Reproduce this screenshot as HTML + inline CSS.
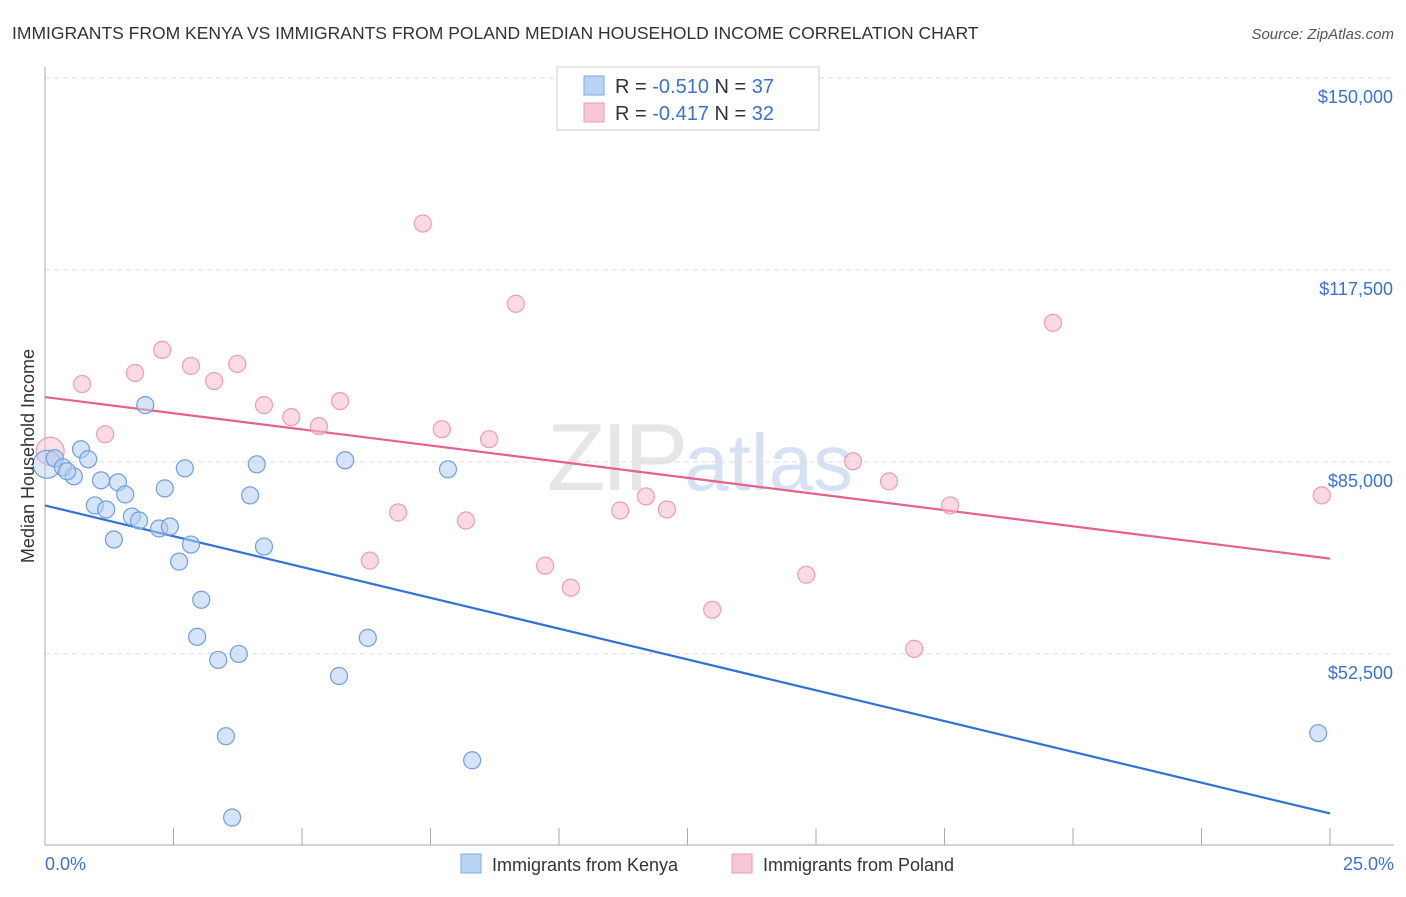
<!DOCTYPE html>
<html><head><meta charset="utf-8"><style>
body{margin:0;background:#fff;font-family:"Liberation Sans",sans-serif;}
svg text{font-family:"Liberation Sans",sans-serif;}
</style></head><body>
<svg id="chart" width="1406" height="892" xmlns="http://www.w3.org/2000/svg">
<text x="12" y="39" font-size="17.5" fill="#333">IMMIGRANTS FROM KENYA VS IMMIGRANTS FROM POLAND MEDIAN HOUSEHOLD INCOME CORRELATION CHART</text>
<text x="1394" y="39" font-size="15" fill="#555" text-anchor="end" font-style="italic">Source: ZipAtlas.com</text>
<text x="700" y="490" font-size="96" fill="#e6e6e6" text-anchor="middle" font-family="Liberation Serif" letter-spacing="-4">ZIP<tspan fill="#d6e2f3" font-family="Liberation Sans" font-size="80" letter-spacing="0">atlas</tspan></text>
<g id="grid"></g>
<g id="axes"></g>
<g id="lines"></g>
<g id="points"></g>
<text transform="translate(34,456) rotate(-90)" font-size="18" fill="#333" text-anchor="middle">Median Household Income</text>
<text x="45" y="870" font-size="18" fill="#3a72d2">0.0%</text>
<text x="1394" y="870" font-size="18" fill="#3a72d2" text-anchor="end">25.0%</text>
<g>
<rect x="557" y="67" width="262" height="63" fill="#fff" stroke="#ccc"/>
<rect x="584" y="76" width="20" height="19" fill="#b9d3f5" stroke="#7fa9e0"/>
<rect x="584" y="103" width="20" height="19" fill="#f9c6d5" stroke="#ec9db5"/>
<text x="615" y="93" font-size="20" fill="#333">R = <tspan fill="#3a72d2">-0.510</tspan>   N = <tspan fill="#3a72d2">37</tspan></text>
<text x="615" y="120" font-size="20" fill="#333">R = <tspan fill="#3a72d2">-0.417</tspan>   N = <tspan fill="#3a72d2">32</tspan></text>
</g>
<g>
<rect x="461" y="854" width="20" height="19" fill="#b9d3f5" stroke="#7fa9e0"/>
<text x="492" y="871" font-size="18" fill="#333">Immigrants from Kenya</text>
<rect x="732" y="854" width="20" height="19" fill="#f9c6d5" stroke="#ec9db5"/>
<text x="763" y="871" font-size="18" fill="#333">Immigrants from Poland</text>
</g>
</svg>
<script>
const yTicks=[150000,117500,85000,52500];
const yTickLabels=["$150,000","$117,500","$85,000","$52,500"];
const xTicks=[0,2.5,5,7.5,10,12.5,15,17.5,20,22.5,25];
const kenyaX=[0.04,0.19,0.35,0.56,0.70,0.84,0.97,1.09,1.19,1.34,1.42,1.56,1.69,1.83,1.95,2.22,2.33,2.43,2.61,2.72,2.84,3.04,2.96,3.37,3.52,3.64,3.77,3.99,4.12,4.26,5.72,5.84,6.28,7.84,8.31,24.77,0.43];
const kenyaY=[84590,85610,84080,82550,87140,85440,77620,81870,76940,71850,81530,79490,75750,75070,94610,73720,80510,74050,68110,83910,71000,61650,55370,51460,38550,24780,52480,79320,84590,70660,48740,85270,55200,83740,34470,39060,83400];
const polandX=[0.10,0.72,1.17,1.75,2.28,2.84,3.29,3.74,4.26,4.79,5.33,5.74,6.32,6.87,7.35,7.72,8.19,8.64,9.16,9.73,10.23,11.19,11.69,12.10,12.98,14.81,15.72,16.42,16.91,17.61,19.61,24.84];
const polandY=[86800,98180,89690,100050,103960,101240,98690,101580,94610,92570,91050,95290,68280,76430,125360,90530,75070,88840,111770,67430,63690,76770,79150,76940,59950,65900,85100,81700,53330,77620,108540,79320];
const kenyaLine=[77620,25460];
const polandLine=[95970,68620];
const NS="http://www.w3.org/2000/svg";
const X=v=>45+v*(1330-45)/25;
const Y=v=>78+(150000-v)*(653.8-78)/(150000-52500);
function mk(t,a,p){const e=document.createElementNS(NS,t);for(const k in a)e.setAttribute(k,a[k]);p.appendChild(e);return e;}
const grid=document.getElementById('grid'),axes=document.getElementById('axes'),lines=document.getElementById('lines'),pts=document.getElementById('points');
yTicks.forEach((v,i)=>{
 const l=mk('line',{x1:45,x2:1394,y1:Y(v),y2:Y(v),stroke:'#ddd','stroke-dasharray':'5,4'},grid);
 
 
 const t=mk('text',{x:1393,y:Y(v)+25,'font-size':18,fill:'#3a72d2','text-anchor':'end'},axes);
 t.textContent=yTickLabels[i];
 
 
});
const ax=mk('line',{x1:45,x2:45,y1:67,y2:845,stroke:'#aaa'},axes);


const bx=mk('line',{x1:45,x2:1394,y1:845,y2:845,stroke:'#aaa'},axes);


xTicks.forEach(v=>{
 const t=mk('line',{x1:X(v),x2:X(v),y1:828,y2:845,stroke:'#aaa'},axes);
 
 
});
function series(xs,ys,fill,stroke,name){
 xs.forEach((x,i)=>{
  const big=i===0;
  const c=mk('circle',{cx:X(x),cy:Y(ys[i]),r:big?14:8.5,fill:fill,'fill-opacity':big?0.45:0.55,stroke:stroke,'stroke-width':1.2},pts);
  
  
 });
}
series(polandX,polandY,'#f7bccd','#ec9db5','poland');
series(kenyaX,kenyaY,'#b3cdf2','#6f9fe0','kenya');
const kl=mk('line',{x1:X(0),y1:Y(kenyaLine[0]),x2:X(25),y2:Y(kenyaLine[1]),stroke:'#2f72d8','stroke-width':2.2},lines);


const pl=mk('line',{x1:X(0),y1:Y(polandLine[0]),x2:X(25),y2:Y(polandLine[1]),stroke:'#e8608d','stroke-width':2.2},lines);


</script>
</body></html>
